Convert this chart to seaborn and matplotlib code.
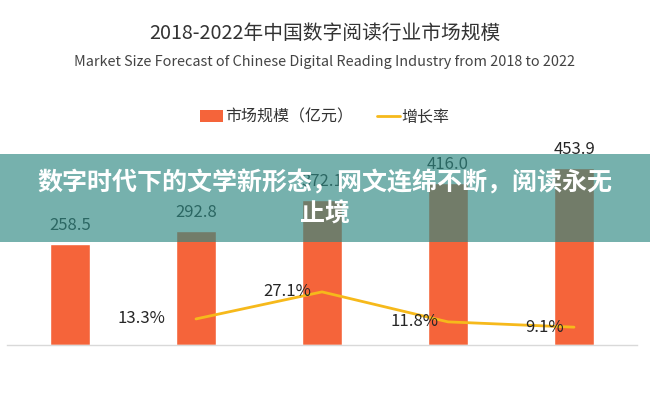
import numpy as np
import pandas as pd
import seaborn as sns
import matplotlib.pyplot as plt
from matplotlib.patches import Patch, Rectangle
from matplotlib.lines import Line2D

years = ['2018', '2019', '2020', '2021E', '2022E']
market = [258.5, 292.8, 372.1, 416.0, 453.9]
growth_years = ['2019', '2020', '2021E', '2022E']
growth = [13.3, 27.1, 11.8, 9.1]

bar_color = '#f5643a'
line_color = '#f6b91b'

sns.set_style('white')
plt.rcParams['font.family'] = ['Noto Sans CJK SC', 'DejaVu Sans']

df = pd.DataFrame({'year': years, 'market': market})
gdf = pd.DataFrame({'year': growth_years, 'growth': growth})
gdf['pos'] = [years.index(y) for y in gdf['year']]

fig = plt.figure(figsize=(6.5, 3.97), dpi=100)
ax = fig.add_axes([7 / 650, 52 / 397, 630 / 650, 215 / 397])

sns.barplot(data=df, x='year', y='market', color=bar_color, width=0.31,
            saturation=1, ax=ax)
ax.set_xlim(-0.5, 4.5)
ax.set_ylim(0, 551)
ax.bar_label(ax.containers[0], fmt='%.1f', padding=7, fontsize=12, color='#262626')

ax2 = ax.twinx()
sns.lineplot(data=gdf, x='pos', y='growth', color=line_color, linewidth=2, ax=ax2)
ax2.set_ylim(0, 109.7)
ax2.set_xlim(-0.5, 4.5)

# growth labels sit to the left of each point
offsets = [-22, -8, -7, -7]
for (_, r), dx in zip(gdf.iterrows(), offsets):
    ax2.annotate(f"{r['growth']:.1f}%", (r['pos'], r['growth']), xytext=(dx, 0),
                 textcoords='offset points', ha='right', va='center',
                 fontsize=12, color='#262626')

for a in (ax, ax2):
    a.set_xlabel('')
    a.set_ylabel('')
    a.set_yticks([])
    for s in ['top', 'left', 'right', 'bottom']:
        a.spines[s].set_visible(False)
ax.spines['bottom'].set_visible(True)
ax.spines['bottom'].set_color('#d9d9d9')
ax.spines['bottom'].set_linewidth(1)
ax.tick_params(axis='x', length=0, pad=14, labelsize=12, labelcolor='#333333')
ax2.set_xticks([])

fig.text(0.5, 1 - 33 / 397, '2018-2022年中国数字阅读行业市场规模', ha='center', va='center',
         fontsize=14.2, color='#333333')
fig.text(0.5, 1 - 62 / 397,
         'Market Size Forecast of Chinese Digital Reading Industry from 2018 to 2022',
         ha='center', va='center', fontsize=10.4, color='#444444')

handles = [Patch(facecolor=bar_color, edgecolor='none'),
           Line2D([0], [0], color=line_color, lw=2)]
fig.legend(handles, ['市场规模（亿元）', '增长率'], loc='center', bbox_to_anchor=(0.5, 1 - 117 / 397),
           ncol=2, frameon=False, fontsize=11.5, handlelength=1.45, handleheight=0.7,
           handletextpad=0.1, columnspacing=1.5, labelcolor='#333333')

# teal overlay band with headline
fig.add_artist(Rectangle((0, 1 - 242 / 397), 1, 88 / 397, transform=fig.transFigure,
                         facecolor='#2f8983', alpha=0.66, edgecolor='none', zorder=10))
fig.text(0.5, 1 - 183 / 397, '数字时代下的文学新形态，网文连绵不断，阅读永无', ha='center', va='center',
         fontsize=18, fontweight='bold', color='white', zorder=11)
fig.text(0.5, 1 - 215 / 397, '止境', ha='center', va='center',
         fontsize=18, fontweight='bold', color='white', zorder=11)

fig.savefig('out.png', dpi=100)
